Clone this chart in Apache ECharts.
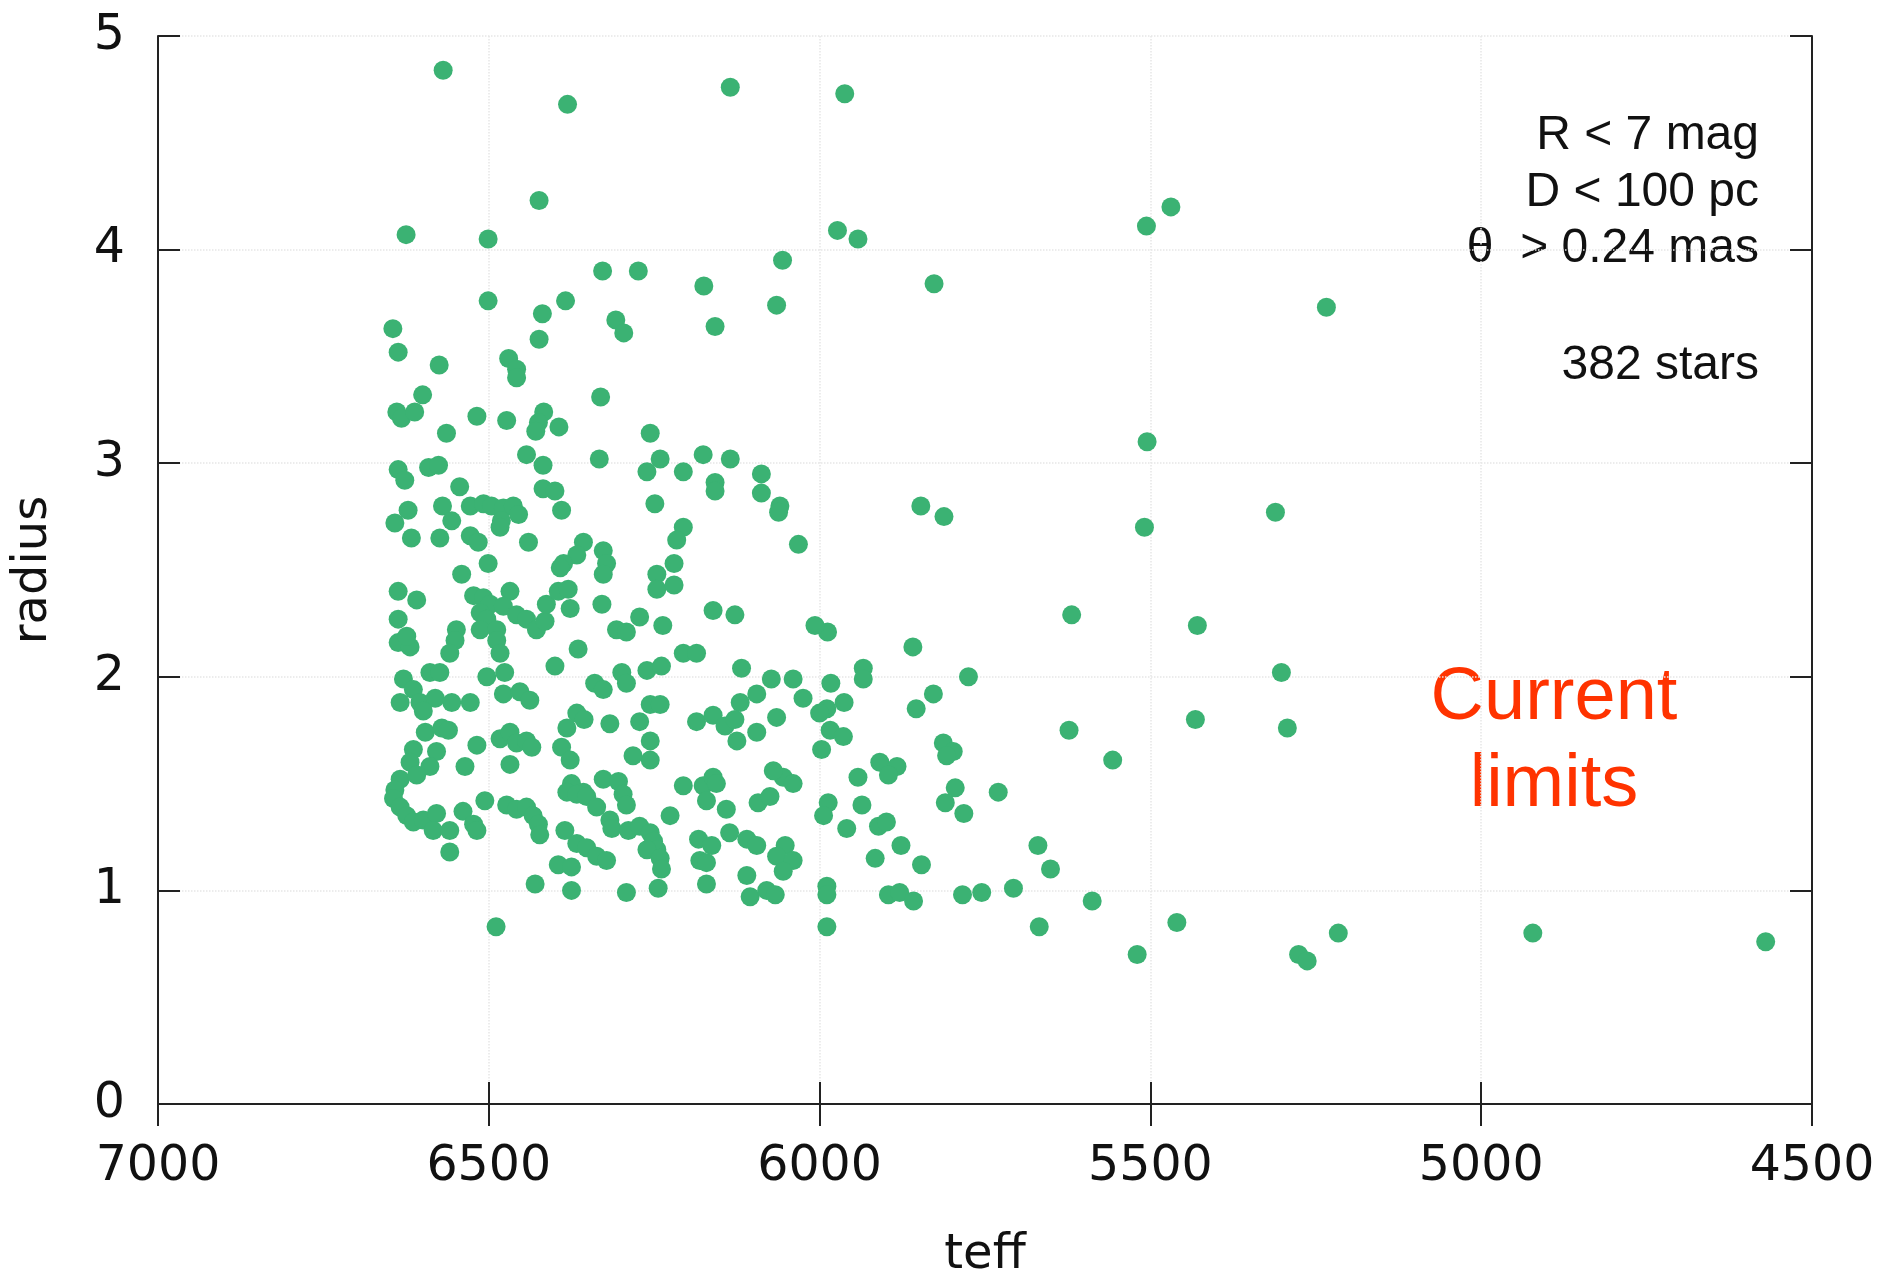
<!DOCTYPE html>
<html>
<head>
<meta charset="utf-8">
<script src="https://cdn.jsdelivr.net/npm/echarts@6/dist/echarts.min.js"></script>
<style>
html,body{margin:0;padding:0;background:#fff;}
#chart{width:1879px;height:1277px;}
</style>
</head>
<body>
<div id="chart"></div>
<script>
// Effective temperature (K) of each star
const teff = [
  // upper part
  6569,6135,5962,6381,6424,6625,6501,5973,5942,6328,6274,6056,6175,6065,6158,6501,6384,6419,6645,6637,
  6424,6308,6296,6575,6470,6458,6458,6600,6639,6632,6612,6518,6473,6331,6417,6425,6429,6394,6564,6256,
  5827,5506,5469,5234,5505,
  // middle right
  5847,5812,5509,5311,5619,5429,5302,5432,5293,5623,5557,5859,5775,5828,5854,5934,5934,5988,5983,5963,
  5989,6000,5984,5964,5997,5813,5798,5808,5909,5883,5896,5942,5795,5730,
  // lower right
  5987,5936,5959,5911,5899,5810,5782,5877,5916,5846,5670,5651,5989,5989,5896,5879,5858,5784,5755,5707,
  5588,5989,5668,5460,5520,5276,5263,5216,4922,4570,
  // dense middle-left
  6443,6418,6333,6241,6261,6176,6135,6206,6158,6158,6088,6088,6060,6062,6249,6637,6627,6591,6576,6544,
  6418,6400,6390,6622,6642,6617,6570,6556,6574,6528,6508,6496,6478,6463,6455,6481,6483,6528,6516,6440,
  6501,6541,6357,6367,6387,6392,6327,6322,6327,6206,6216,6220,6246,6246,6220,6032,6637,6609,6637,6637,
  6619,6624,6523,6508,6498,6513,6503,6513,6488,6488,6483,6468,6478,6458,6443,6428,6415,6549,6551,6559,
  6413,6395,6380,6377,6365,6400,6329,6307,6292,6272,6237,6161,6128,6007,6206,6186,6118,6073,6040,6025,
  6340,6327,6299,6292,6261,6239,6256,6241,6120,6095,6186,6161,6143,6128,6065,6125,6095,6367,6356,6317,
  6272,6382,6256,6256,6390,6377,6282,6629,6614,6589,6574,6634,6604,6581,6599,6556,6528,6503,6476,6478,
  6453,6438,6596,6571,6561,6614,6579,6619,6589,6634,6642,6518,6536,6483,6468,6458,6443,6435,6468,6055,
  6070,6040,6176,6161,6206,6375,6357,6327,6304,
  // dense lower-left
  6644,6634,6624,6614,6599,6579,6584,6559,6559,6609,6539,6523,6518,6506,6473,6458,6443,6433,6425,6423,
  6382,6367,6352,6337,6297,6292,6317,6314,6289,6272,6385,6367,6352,6337,6322,6395,6375,6430,6375,6292,
  6226,6256,6251,6246,6261,6241,6239,6244,6156,6171,6141,6183,6163,6181,6171,6171,6136,6110,6095,6110,
  6105,6080,6067,6093,6075,6052,6065,6040,6055,5994,6489
];
// Stellar radius of each star (same order as teff)
const radius = [
  4.84,4.76,4.73,4.68,4.23,4.07,4.05,4.09,4.05,3.90,3.90,3.95,3.83,3.74,3.64,3.76,3.76,3.70,3.63,3.52,
  3.58,3.67,3.61,3.46,3.49,3.44,3.40,3.32,3.24,3.21,3.24,3.22,3.20,3.31,3.24,3.19,3.15,3.17,3.14,3.14,
  3.84,4.11,4.20,3.73,3.10,
  2.80,2.75,2.70,2.77,2.29,2.24,2.02,1.80,1.76,1.75,1.61,2.14,2.00,1.92,1.85,2.04,1.99,2.21,1.97,1.88,
  1.85,1.83,1.75,1.72,1.66,1.69,1.65,1.63,1.60,1.58,1.54,1.53,1.48,1.46,
  1.41,1.40,1.29,1.30,1.32,1.41,1.36,1.21,1.15,1.12,1.21,1.10,1.02,0.98,0.98,0.99,0.95,0.98,0.99,1.01,
  0.95,0.83,0.83,0.85,0.70,0.70,0.67,0.80,0.80,0.76,
  3.04,2.99,3.02,3.02,2.96,3.04,3.02,2.96,2.91,2.87,2.95,2.86,2.80,2.77,2.81,2.97,2.92,2.98,2.99,2.89,
  2.88,2.87,2.78,2.78,2.72,2.65,2.80,2.73,2.65,2.80,2.81,2.80,2.79,2.80,2.76,2.73,2.70,2.66,2.63,2.63,
  2.53,2.48,2.63,2.57,2.53,2.51,2.59,2.53,2.48,2.70,2.64,2.53,2.48,2.41,2.43,2.62,2.40,2.36,2.27,2.16,
  2.14,2.19,2.38,2.37,2.34,2.30,2.27,2.22,2.22,2.17,2.11,2.40,2.33,2.29,2.27,2.22,2.26,2.22,2.17,2.11,
  2.34,2.40,2.41,2.32,2.13,2.05,2.34,2.22,2.21,2.28,2.24,2.31,2.29,2.24,2.11,2.11,2.04,1.99,1.99,1.90,
  1.97,1.94,2.02,1.97,2.03,2.05,1.87,1.87,1.88,1.92,1.79,1.82,1.77,1.80,1.81,1.70,1.74,1.83,1.80,1.78,
  1.79,1.76,1.70,1.61,1.67,1.61,1.63,1.99,1.94,2.02,2.02,1.88,1.88,1.90,1.84,1.88,1.88,2.00,2.02,1.92,
  1.93,1.89,1.74,1.76,1.75,1.66,1.65,1.60,1.58,1.52,1.47,1.68,1.58,1.71,1.74,1.69,1.70,1.67,1.59,1.53,
  1.56,1.50,1.49,1.53,1.49,1.50,1.46,1.52,1.51,
  1.43,1.39,1.35,1.32,1.33,1.36,1.28,1.28,1.18,1.54,1.37,1.31,1.28,1.42,1.40,1.38,1.39,1.35,1.31,1.26,
  1.46,1.45,1.44,1.39,1.45,1.40,1.33,1.29,1.28,1.30,1.28,1.22,1.20,1.16,1.14,1.12,1.11,1.03,1.00,0.99,
  1.35,1.27,1.23,1.19,1.19,1.15,1.10,1.01,1.50,1.42,1.38,1.24,1.21,1.14,1.13,1.03,1.27,1.24,1.21,1.07,
  0.97,1.00,0.98,1.41,1.44,1.21,1.16,1.14,1.09,1.35,0.83
];
const infoLines = ['R < 7 mag', 'D < 100 pc', 'θ  > 0.24 mas', '382 stars'];
const limitLines = ['Current', 'limits'];

const points = teff.map((t, i) => [t, radius[i]]);

const chart = echarts.init(document.getElementById('chart'), null, {renderer: 'canvas'});
const axisFont = {fontFamily: 'DejaVu Sans', fontSize: 49, color: '#111'};
const frameLine = {show: true, lineStyle: {color: '#222', width: 2}};
const grid = {left: 158, right: 67, top: 36, bottom: 173, containLabel: false, outerBoundsMode: 'none'};
const splitLine = {show: true, lineStyle: {color: '#e6e6e6', type: 'dotted', width: 1.5}};
const tick = {show: true, inside: true, length: 22, lineStyle: {color: '#222', width: 2}};

const infoY = [136, 193, 249, 366];
const graphics = infoLines.map((s, i) => ({
  type: 'text', x: 1759, y: infoY[i],
  style: {text: s, font: '48px "Liberation Sans", Arial, sans-serif', fill: '#111', textAlign: 'right', textVerticalAlign: 'middle'}
})).concat(limitLines.map((s, i) => ({
  type: 'text', x: 1554, y: [699, 786][i],
  style: {text: s, font: '74px "Liberation Sans", Arial, sans-serif', fill: '#ff3300', textAlign: 'center', textVerticalAlign: 'middle'}
})));

chart.setOption({
  animation: false,
  backgroundColor: '#fff',
  grid: grid,
  xAxis: [{
    type: 'value', inverse: true, min: 4500, max: 7000, interval: 500,
    name: 'teff', nameLocation: 'middle', nameGap: 128,
    nameTextStyle: {fontFamily: 'DejaVu Sans', fontSize: 48, color: '#111'},
    axisLine: frameLine, axisTick: tick,
    axisLabel: Object.assign({margin: 39, formatter: v => String(v)}, axisFont),
    splitLine: splitLine
  }, {
    type: 'value', inverse: true, min: 4500, max: 7000, interval: 500, position: 'top',
    axisLine: frameLine, axisTick: tick,
    axisLabel: {show: false}, splitLine: {show: false}
  }],
  yAxis: [{
    type: 'value', min: 0, max: 5, interval: 1,
    name: 'radius', nameLocation: 'middle', nameGap: 100, nameRotate: 90,
    nameTextStyle: {fontFamily: 'DejaVu Sans', fontSize: 48, color: '#111'},
    axisLine: frameLine, axisTick: tick,
    axisLabel: Object.assign({margin: 33, formatter: v => String(v)}, axisFont),
    splitLine: splitLine
  }, {
    type: 'value', min: 0, max: 5, interval: 1, position: 'right',
    axisLine: frameLine, axisTick: tick,
    axisLabel: {show: false}, splitLine: {show: false}
  }],
  series: [{
    type: 'scatter', xAxisIndex: 0, yAxisIndex: 0,
    data: points, symbol: 'circle', symbolSize: 19,
    itemStyle: {color: '#3bb273', opacity: 1}
  }],
  graphic: graphics
});
</script>
</body>
</html>
